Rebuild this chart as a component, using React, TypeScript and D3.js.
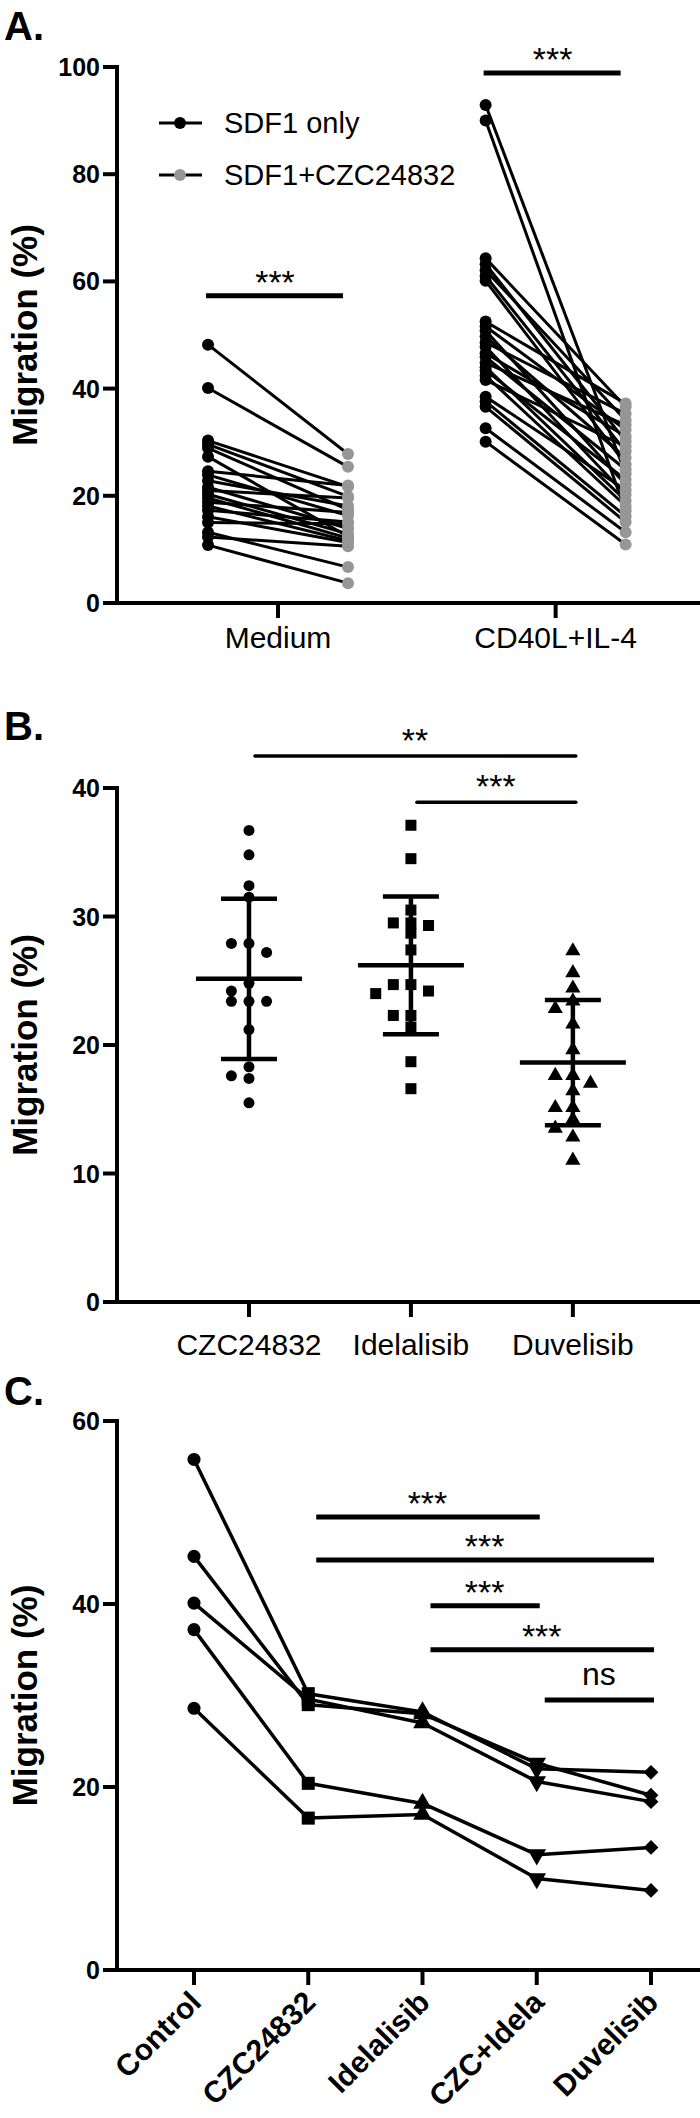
import * as d3 from "d3";

const W = 700;
const H = 2118;
const FONT = "'Liberation Sans', Arial, Helvetica, sans-serif";
const NARROW = "'Liberation Sans Narrow', 'Arial Narrow', 'Liberation Sans', Arial, sans-serif";
const GRAY = "#969696";

// ---- panel A: paired migration, SDF1 only vs SDF1+CZC24832
const A_GROUPS = ["Medium", "CD40L+IL-4"];
const A_SERIES = ["SDF1 only", "SDF1+CZC24832"];
const A_TICKS = [0, 20, 40, 60, 80, 100];
const MEDIUM_SDF1 = [48.2, 40.1, 30.3, 29.6, 28.9, 27.3, 24.6, 23.9, 22.8, 21.6, 21.0, 20.3, 19.6, 18.8, 18.1, 17.3, 16.1, 15.0, 13.2, 12.3, 10.8];
const MEDIUM_CZC = [27.8, 25.4, 21.7, 19.9, 17.4, 12.4, 21.9, 16.3, 18.1, 13.9, 19.6, 12.9, 12.1, 16.9, 11.6, 15.1, 11.3, 14.8, 6.7, 10.6, 3.7];
const CD40L_SDF1 = [92.9, 90.0, 64.3, 63.2, 62.1, 61.0, 60.1, 52.5, 51.6, 50.8, 49.7, 48.6, 47.8, 46.6, 45.9, 44.8, 44.0, 43.4, 42.4, 41.6, 38.5, 37.6, 36.6, 32.6, 30.1];
const CD40L_CZC = [24.1, 17.2, 36.6, 30.2, 34.1, 28.3, 25.9, 37.2, 32.3, 22.1, 27.1, 35.3, 20.2, 31.1, 24.9, 33.2, 19.1, 23.0, 18.1, 29.2, 21.1, 16.2, 15.1, 13.2, 10.9];
const A_SIG = ["***", "***"];
const A_SIG_LEVEL = [57.3, 98.9];

// ---- panel B: single inhibitors, mean +/- SD
const B_GROUPS = ["CZC24832", "Idelalisib", "Duvelisib"];
const B_TICKS = [0, 10, 20, 30, 40];
const B_CZC = [36.7, 34.8, 32.4, 31.5, 27.9, 27.9, 27.2, 24.8, 24.2, 23.4, 23.4, 23.4, 21.2, 18.3, 17.6, 17.4, 15.5];
const B_IDELA = [37.1, 34.5, 30.5, 29.5, 29.5, 29.3, 28.7, 27.4, 24.7, 24.7, 24.2, 24.0, 22.3, 22.3, 21.4, 18.7, 16.6];
const B_DUVE = [27.4, 25.7, 24.5, 23.5, 22.9, 21.7, 19.7, 17.7, 17.7, 17.1, 16.5, 15.2, 15.2, 14.3, 13.6, 12.9, 11.1];
const B_SIG = [
  { from: 0, to: 2, label: "**" },
  { from: 1, to: 2, label: "***" },
];
const B_SIG_LEVEL = [42.5, 38.9];

// ---- panel C: five donors across treatments
const C_GROUPS = ["Control", "CZC24832", "Idelalisib", "CZC+Idela", "Duvelisib"];
const C_TICKS = [0, 20, 40, 60];
const C_DONOR1 = [55.8, 30.2, 28.2, 22.0, 21.6];
const C_DONOR2 = [45.2, 29.0, 28.0, 22.6, 19.1];
const C_DONOR3 = [40.1, 29.6, 27.0, 20.6, 18.4];
const C_DONOR4 = [37.2, 20.4, 18.2, 12.6, 13.4];
const C_DONOR5 = [28.6, 16.6, 17.0, 10.0, 8.7];
const C_SIG = [
  { from: 1, to: 3, label: "***" },
  { from: 1, to: 4, label: "***" },
  { from: 2, to: 3, label: "***" },
  { from: 2, to: 4, label: "***" },
  { from: 3, to: 4, label: "ns" },
];
const C_SIG_LEVEL = [49.5, 44.8, 39.8, 35.0, 29.5];

const AXIS_X = 117;

type Scale = d3.ScaleLinear<number, number>;

const YAxis = ({ y, ticks }: { y: Scale; ticks: number[] }) => {
  const top = y(ticks[ticks.length - 1]);
  const bottom = y(0);
  return (
    <g>
      <line x1={AXIS_X} x2={AXIS_X} y1={top} y2={bottom} stroke="#000" strokeWidth={4} strokeLinecap="square" />
      {ticks.map((t) => (
        <g key={t}>
          <line x1={AXIS_X - 14} x2={AXIS_X} y1={y(t)} y2={y(t)} stroke="#000" strokeWidth={4} />
          <text
            x={100}
            y={y(t)}
            dy="0.36em"
            textAnchor="end"
            fontFamily={NARROW}
            fontWeight="bold"
            fontSize={25}
          >
            {t}
          </text>
        </g>
      ))}
      <text
        transform={`translate(37,${(top + bottom) / 2}) rotate(-90)`}
        textAnchor="middle"
        fontFamily={FONT}
        fontWeight="bold"
        fontSize={35}
      >
        Migration (%)
      </text>
    </g>
  );
};

const XAxis = ({ x, y, n }: { x: Scale; y: Scale; n: number }) => (
  <g>
    <line x1={AXIS_X} x2={W} y1={y(0)} y2={y(0)} stroke="#000" strokeWidth={4} />
    {d3.range(n).map((i) => (
      <line key={i} x1={x(i)} x2={x(i)} y1={y(0)} y2={y(0) + 15} stroke="#000" strokeWidth={4} />
    ))}
  </g>
);

const PanelLetter = ({ label, yBase }: { label: string; yBase: number }) => (
  <text x={4} y={yBase} fontFamily={FONT} fontWeight="bold" fontSize={40}>
    {label}
  </text>
);

const PanelA = () => {
  const x = d3.scaleLinear().domain([-0.58, 1.52]).range([AXIS_X, W]);
  const y = d3.scaleLinear().domain([0, 100]).range([603, 67]);
  const groups = [
    { before: MEDIUM_SDF1, after: MEDIUM_CZC },
    { before: CD40L_SDF1, after: CD40L_CZC },
  ];
  const OFF = 70;
  return (
    <g>
      <PanelLetter label="A." yBase={40} />
      <YAxis y={y} ticks={A_TICKS} />
      <XAxis x={x} y={y} n={A_GROUPS.length} />
      {A_GROUPS.map((g, i) => (
        <text key={g} x={x(i)} y={648} textAnchor="middle" fontFamily={FONT} fontSize={30}>
          {g}
        </text>
      ))}
      {groups.map((grp, gi) =>
        grp.before.map((v, k) => (
          <line
            key={`l${gi}_${k}`}
            x1={x(gi) - OFF}
            x2={x(gi) + OFF}
            y1={y(v)}
            y2={y(grp.after[k])}
            stroke="#000"
            strokeWidth={3}
          />
        ))
      )}
      {groups.map((grp, gi) =>
        grp.after.map((v, k) => <circle key={`g${gi}_${k}`} cx={x(gi) + OFF} cy={y(v)} r={6} fill={GRAY} />)
      )}
      {groups.map((grp, gi) =>
        grp.before.map((v, k) => <circle key={`b${gi}_${k}`} cx={x(gi) - OFF} cy={y(v)} r={6} fill="#000" />)
      )}
      {A_SIG.map((s, i) => (
        <g key={i}>
          <line x1={x(i) - 72} x2={x(i) + 65} y1={y(A_SIG_LEVEL[i])} y2={y(A_SIG_LEVEL[i])} stroke="#000" strokeWidth={5} />
          <text x={x(i) - 3} y={y(A_SIG_LEVEL[i]) - 2} textAnchor="middle" fontFamily={FONT} fontSize={34}>
            {s}
          </text>
        </g>
      ))}
      {/* legend */}
      {A_SERIES.map((s, i) => (
        <g key={s} transform={`translate(0,${123 + i * 52})`}>
          <line x1={159} x2={202} y1={0} y2={0} stroke="#000" strokeWidth={3} />
          <circle cx={180} cy={0} r={6} fill={i === 0 ? "#000" : GRAY} />
          <text x={224} y={10} fontFamily={FONT} fontSize={29}>
            {s}
          </text>
        </g>
      ))}
    </g>
  );
};

// simple beeswarm: spread overlapping points sideways in fixed steps
const swarm = (vals: number[], y: Scale, r: number) => {
  const step = r * 1.6;
  const placed: { dx: number; cy: number }[] = [];
  return vals.map((v) => {
    const cy = y(v);
    for (let k = 0; k < 20; k++) {
      const slot = k === 0 ? 0 : (k % 2 === 1 ? -1 : 1) * Math.ceil(k / 2);
      const dx = slot * step;
      const hit = placed.some((p) => Math.abs(p.cy - cy) < r * 1.8 && Math.abs(p.dx - dx) < r * 1.8);
      if (!hit) {
        placed.push({ dx, cy });
        return { dx, cy };
      }
    }
    return { dx: 0, cy };
  });
};

const PanelB = () => {
  const x = d3.scaleLinear().domain([-0.815, 2.785]).range([AXIS_X, W]);
  const y = d3.scaleLinear().domain([0, 40]).range([1302, 788]);
  const sets = [B_CZC, B_IDELA, B_DUVE];
  const r = 5.5;
  const marker = (gi: number, cx: number, cy: number, key: string) => {
    if (gi === 0) return <circle key={key} cx={cx} cy={cy} r={r} fill="#000" />;
    if (gi === 1) return <rect key={key} x={cx - 5.5} y={cy - 5.5} width={11} height={11} fill="#000" />;
    const p = d3.symbol().type(d3.symbolTriangle).size(100)();
    return <path key={key} d={p ?? ""} transform={`translate(${cx},${cy + 1})`} fill="#000" />;
  };
  return (
    <g>
      <PanelLetter label="B." yBase={740} />
      <YAxis y={y} ticks={B_TICKS} />
      <XAxis x={x} y={y} n={B_GROUPS.length} />
      {B_GROUPS.map((g, i) => (
        <text key={g} x={x(i)} y={1355} textAnchor="middle" fontFamily={FONT} fontSize={30}>
          {g}
        </text>
      ))}
      {sets.map((vals, gi) =>
        swarm(vals, y, r).map((p, k) => marker(gi, x(gi) + p.dx, p.cy, `m${gi}_${k}`))
      )}
      {sets.map((vals, gi) => {
        const m = d3.mean(vals) ?? 0;
        const sd = d3.deviation(vals) ?? 0;
        const cx = x(gi);
        return (
          <g key={`e${gi}`} stroke="#000" strokeWidth={4.5}>
            <line x1={cx} x2={cx} y1={y(m - sd)} y2={y(m + sd)} />
            <line x1={cx - 28} x2={cx + 28} y1={y(m + sd)} y2={y(m + sd)} />
            <line x1={cx - 28} x2={cx + 28} y1={y(m - sd)} y2={y(m - sd)} />
            <line x1={cx - 53} x2={cx + 53} y1={y(m)} y2={y(m)} />
          </g>
        );
      })}
      {B_SIG.map((s, i) => {
        const yy = y(B_SIG_LEVEL[i]);
        return (
          <g key={i}>
            <line x1={x(s.from) + 6} x2={x(s.to) + 3} y1={yy} y2={yy} stroke="#000" strokeWidth={3.5} strokeLinecap="round" />
            <text x={(x(s.from) + x(s.to)) / 2 + 4} y={yy - 4} textAnchor="middle" fontFamily={FONT} fontSize={34}>
              {s.label}
            </text>
          </g>
        );
      })}
    </g>
  );
};

const PanelC = () => {
  const x = d3.scaleLinear().domain([-0.674, 4.429]).range([AXIS_X, W]);
  const y = d3.scaleLinear().domain([0, 60]).range([1970, 1421]);
  const donors = [C_DONOR1, C_DONOR2, C_DONOR3, C_DONOR4, C_DONOR5];
  const line = d3
    .line<number>()
    .x((_, i) => x(i))
    .y((v) => y(v));
  const symbols = [
    { type: d3.symbolCircle, size: 135, rot: 0 },
    { type: d3.symbolSquare, size: 170, rot: 0 },
    { type: d3.symbolTriangle, size: 150, rot: 0 },
    { type: d3.symbolTriangle, size: 150, rot: 180 },
    { type: d3.symbolSquare, size: 110, rot: 45 },
  ];
  return (
    <g>
      <PanelLetter label="C." yBase={1405} />
      <YAxis y={y} ticks={C_TICKS} />
      <XAxis x={x} y={y} n={C_GROUPS.length} />
      {C_GROUPS.map((g, i) => (
        <text
          key={g}
          transform={`translate(${x(i) + 9},${2004}) rotate(-45)`}
          textAnchor="end"
          fontFamily={FONT}
          fontWeight="bold"
          fontSize={30}
        >
          {g}
        </text>
      ))}
      {donors.map((d, k) => (
        <path key={`d${k}`} d={line(d) ?? ""} fill="none" stroke="#000" strokeWidth={3.5} strokeLinejoin="round" />
      ))}
      {donors.map((d, k) =>
        d.map((v, i) => {
          const s = symbols[i];
          const p = d3.symbol().type(s.type).size(s.size)();
          return (
            <path
              key={`s${k}_${i}`}
              d={p ?? ""}
              transform={`translate(${x(i)},${y(v)}) rotate(${s.rot})`}
              fill="#000"
            />
          );
        })
      )}
      {C_SIG.map((s, i) => {
        const yy = y(C_SIG_LEVEL[i]);
        const mid = (x(s.from) + x(s.to)) / 2 + 5;
        return (
          <g key={i}>
            <line x1={x(s.from) + 8} x2={x(s.to) + 3} y1={yy} y2={yy} stroke="#000" strokeWidth={5} />
            <text
              x={mid}
              y={s.label === "ns" ? yy - 15 : yy - 2}
              textAnchor="middle"
              fontFamily={FONT}
              fontSize={s.label === "ns" ? 32 : 34}
            >
              {s.label}
            </text>
          </g>
        );
      })}
    </g>
  );
};

export default function App() {
  return (
    <svg
      width={W}
      height={H}
      viewBox={`0 0 ${W} ${H}`}
      style={{ position: "absolute", left: 0, top: 0, background: "#fff" }}
    >
      <rect width={W} height={H} fill="#fff" />
      <PanelA />
      <PanelB />
      <PanelC />
    </svg>
  );
}
